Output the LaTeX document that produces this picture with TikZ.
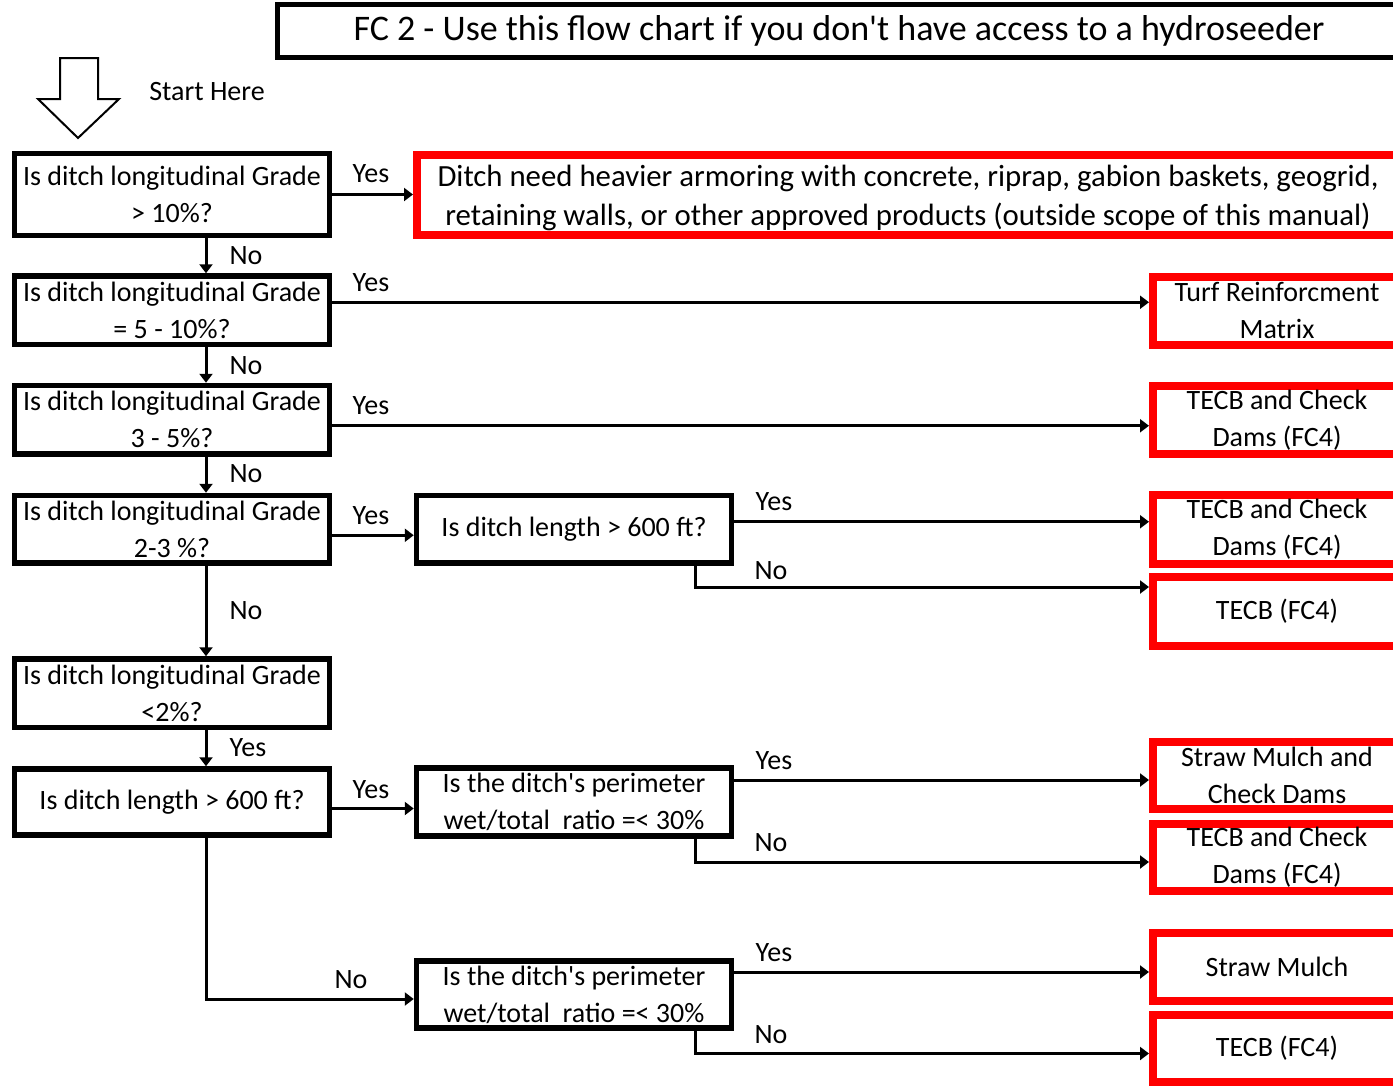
\documentclass[tikz,border=0pt]{standalone}
\usepackage{fontspec}
\setmainfont{Carlito}[Ligatures=TeXOff]
\usetikzlibrary{arrows.meta}
\begin{document}
\begin{tikzpicture}[x=1pt,y=-1pt,
  txt/.style={font=\fontsize{28}{37}\selectfont},
  qbox/.style={txt, draw, line width=5.5pt, fill=white, inner sep=0pt, align=center,
               minimum width=315pt},
  rbox/.style={txt, draw=red, line width=8pt, fill=white, inner sep=0pt, align=center,
               minimum width=248pt},
  ttl/.style={draw, line width=5pt, inner sep=0pt, minimum width=1124pt, minimum height=53pt,
              font=\fontsize{36}{40}\selectfont},
  lbl/.style={txt, inner sep=0pt},
  arr/.style={line width=3pt, -{Triangle[length=9pt,width=13pt]}},
  startarrow/.style={line width=2pt, fill=white}]

\clip (0,0) rectangle (1393,1085);
\fill[white] (0,0) rectangle (1393,1085);

% heading
\node[ttl] (title) at (839,30.5) {FC 2 - Use this flow chart if you don't have access to a hydroseeder};

% entry marker
\draw[startarrow] (60,58) -- (98,58) -- (98,99) -- (119,99) -- (78,138) -- (38,99) -- (60,99) -- cycle;
\node[lbl] (start) at (207,92) {Start Here};

% questions, left column
\node[qbox, minimum height=82pt]   (q1) at (172,194.5)  {Is ditch longitudinal Grade\\> 10\%?};
\node[qbox, minimum height=68.5pt] (q2) at (172,310.25) {Is ditch longitudinal Grade\\= 5 - 10\%?};
\node[qbox, minimum height=68.5pt] (q3) at (172,419.75) {Is ditch longitudinal Grade\\3 - 5\%?};
\node[qbox, minimum height=67.5pt] (q4) at (172,529.25) {Is ditch longitudinal Grade\\2-3 \%?};
\node[qbox, minimum height=68.5pt] (q5) at (172,693.25) {Is ditch longitudinal Grade\\<2\%?};
\node[qbox, minimum height=66pt]   (q6) at (172,802)    {Is ditch length > 600 ft?};

% questions, middle column
\node[qbox, minimum height=67.5pt] (len) at (574,529.25) {Is ditch length > 600 ft?};
\node[qbox, minimum height=68pt]   (q7)  at (574,802)    {Is the ditch's perimeter\\wet/total\ \ ratio =< 30\%};
\node[qbox, minimum height=67pt]   (q8)  at (574,994.5)  {Is the ditch's perimeter\\wet/total\ \ ratio =< 30\%};

% outcomes
\node[rbox, minimum width=982pt, minimum height=80.5pt, font=\fontsize{30.8}{39}\selectfont]
  (r1) at (908,194.75) {\raisebox{-3.5pt}[\height][\depth]{\begin{tabular}{@{}c@{}}Ditch need heavier armoring with concrete, riprap, gabion baskets, geogrid,\\retaining walls, or other approved products (outside scope of this manual)\end{tabular}}};
\node[rbox, minimum height=67.5pt] (r2) at (1277,310.75)  {Turf Reinforcment\\Matrix};
\node[rbox, minimum height=67.5pt] (r3) at (1277,419.75)  {TECB and Check\\Dams (FC4)};
\node[rbox, minimum height=68.5pt] (r4) at (1277,529.25)  {TECB and Check\\Dams (FC4)};
\node[rbox, minimum height=69pt]   (r5) at (1277,611.5)   {TECB (FC4)};
\node[rbox, minimum height=67pt]   (r6) at (1277,775.5)   {Straw Mulch and\\Check Dams};
\node[rbox, minimum height=67pt]   (r7) at (1277,857.5)   {TECB and Check\\Dams (FC4)};
\node[rbox, minimum height=68.5pt] (r8) at (1277,966.75)  {Straw Mulch};
\node[rbox, minimum height=67pt]   (r9) at (1277,1048)    {TECB (FC4)};

% "No" chain down the left column
\draw[arr] ([xshift=34pt]q1.south) -- ([xshift=34pt]q2.north);
\draw[arr] ([xshift=34pt]q2.south) -- ([xshift=34pt]q3.north);
\draw[arr] ([xshift=34pt]q3.south) -- ([xshift=34pt]q4.north);
\draw[arr] ([xshift=34pt]q4.south) -- ([xshift=34pt]q5.north);
\draw[arr] ([xshift=34pt]q5.south) -- ([xshift=34pt]q6.north);
\draw[arr] ([xshift=34pt]q6.south) |- ([yshift=-4.5pt]q8.west);

% "Yes" branches
\draw[arr] (q1.east) -- (q1.east -| r1.west);
\draw[arr] ([yshift=8pt]q2.east) -- ([yshift=8pt]q2.east -| r2.west);
\draw[arr] ([yshift=-6pt]q3.east) -- ([yshift=-6pt]q3.east -| r3.west);
\draw[arr] ([yshift=-6pt]q4.east) -- ([yshift=-6pt]q4.east -| len.west);
\draw[arr] ([yshift=-6.5pt]q6.east) -- ([yshift=-6.5pt]q6.east -| q7.west);

% length and perimeter questions
\draw[arr] ([yshift=7.5pt]len.east) -- ([yshift=7.5pt]len.east -| r4.west);
\draw[arr] ([xshift=121pt]len.south) |- ([yshift=24.5pt]r5.west);
\draw[arr] ([yshift=22pt]q7.east) -- ([yshift=22pt]q7.east -| r6.west);
\draw[arr] ([xshift=121pt]q7.south) |- ([yshift=-4.5pt]r7.west);
\draw[arr] ([yshift=22.5pt]q8.east) -- ([yshift=22.5pt]q8.east -| r8.west);
\draw[arr] ([xshift=121pt]q8.south) |- ([yshift=-5.5pt]r9.west);

% branch labels
\node[lbl] (y1) at (371,174) {Yes};
\node[lbl] (y2) at (371,283) {Yes};
\node[lbl] (y3) at (371,406) {Yes};
\node[lbl] (y4) at (371,516) {Yes};
\node[lbl] (y5) at (248,748) {Yes};
\node[lbl] (y6) at (371,790) {Yes};
\node[lbl] (n1) at (246,256) {No};
\node[lbl] (n2) at (246,366) {No};
\node[lbl] (n3) at (246,474) {No};
\node[lbl] (n4) at (246,611) {No};
\node[lbl] (n5) at (351,980) {No};
\node[lbl] (y7) at (774,502) {Yes};
\node[lbl] (n6) at (771,571) {No};
\node[lbl] (y8) at (774,761) {Yes};
\node[lbl] (n7) at (771,843) {No};
\node[lbl] (y9) at (774,953) {Yes};
\node[lbl] (n8) at (771,1035) {No};
\end{tikzpicture}
\end{document}
